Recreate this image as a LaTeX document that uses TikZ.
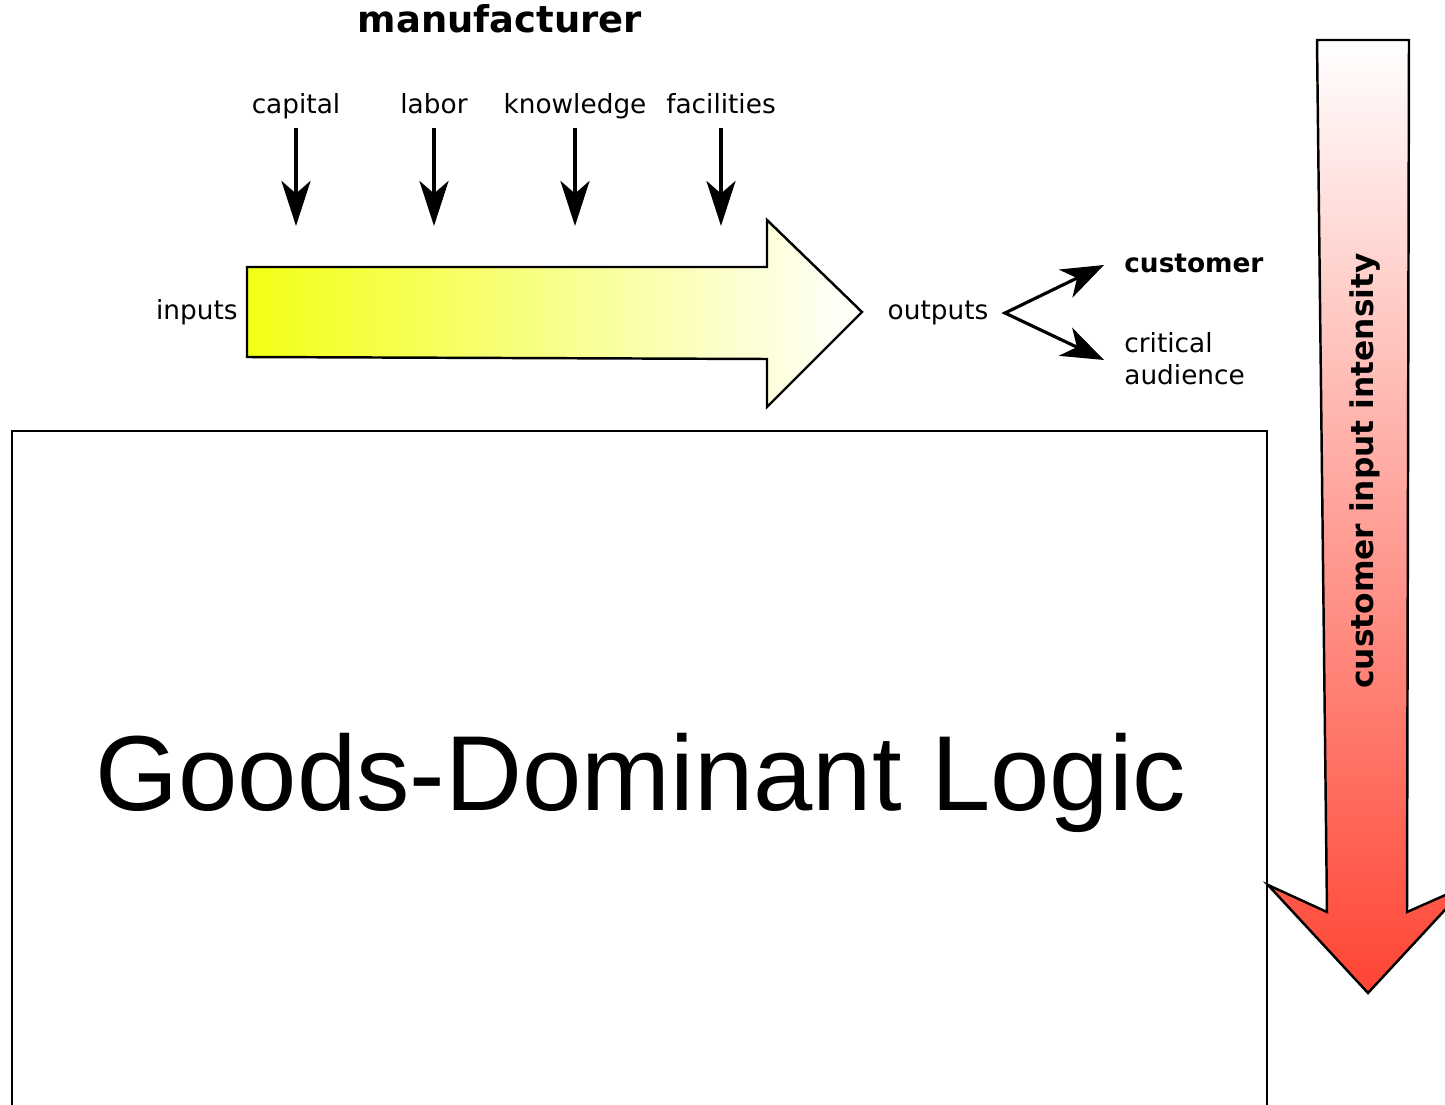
\documentclass[tikz,border=0pt]{standalone}
\usepackage{fontspec}
\setmainfont{DejaVu Sans}
\newfontfamily\logicfont{Liberation Sans}
\usetikzlibrary{arrows.meta}

\definecolor{inyellow}{HTML}{F2FF14}
\definecolor{outred}{HTML}{FF4433}

\tikzset{
  lbl/.style={inner sep=0pt, anchor=base, font=\fontsize{15}{18}\selectfont},
  boldlbl/.style={lbl, font=\fontsize{15}{18}\selectfont\bfseries},
  inarrow/.style={line width=2.3pt, -{Stealth[length=0.9cm, width=0.58cm, inset=0.25cm]}},
  forkarrow/.style={line width=1.8pt, miter limit=20, {Stealth[length=0.85cm, width=0.62cm, inset=0.25cm]}-{Stealth[length=0.85cm, width=0.62cm, inset=0.25cm]}},
  bigshape/.style={draw=black, line width=1.4pt, line join=miter}
}

\begin{document}
\begin{tikzpicture}[x=0.02cm, y=-0.02cm]
    \useasboundingbox (0,0) rectangle (1445,1105) ;
    \clip (0,0) rectangle (1445,1105) ;

    % manufacturer side
    \node[boldlbl, font=\fontsize{21}{25}\selectfont\bfseries] at (500,33) (manuf) {manufacturer} ;
    \foreach \x/\name/\txt in {296/cap/capital, 434/lab/labor, 575/know/knowledge, 721/fac/facilities} {
      \node[lbl] at (\x,114) (\name) {\txt} ;
      \coordinate (\name tip) at (\x,226) ;
      \draw[inarrow] (\x,128) -- (\name tip) ;
    }

    % main flow arrow
    \draw[bigshape, left color=inyellow, right color=white]
      (247,267) -- (767,267) -- (767,220) -- (862,312) -- (767,407) -- (767,359) -- (247,357) -- cycle ;
    \node[lbl, anchor=base east] at (238,319) (inputs) {inputs} ;
    \node[lbl] at (938,319) (outputs) {outputs} ;

    % outputs go to
    \node[boldlbl, anchor=base west] at (1124,273) (cust) {customer} ;
    \node[lbl, anchor=north west, align=left, font=\fontsize{15}{18.5}\selectfont] at (1124,332) (aud) {critical\\audience} ;
    \coordinate (fork) at (1005,313) ;
    \coordinate (custtip) at (1104,265) ;
    \coordinate (audtip) at (1104,360) ;
    \draw[forkarrow] (custtip) -- (fork) -- (audtip) ;

    % logic box
    \draw[line width=0.9pt] (12,1200) -- (12,431) -- (1267,431) -- (1267,1200) ;
    \node[inner sep=0pt, anchor=base, font=\logicfont\fontsize{60.7}{70}\selectfont] at (641,810) (logic) {Goods-Dominant Logic} ;

    % customer input intensity
    \draw[bigshape, top color=white, bottom color=outred]
      (1317,40) -- (1409,40) -- (1407,912) -- (1468,885) -- (1368,993) -- (1268,885) -- (1327,912) -- cycle ;
    \node[inner sep=0pt, rotate=90, font=\fontsize{17.8}{20}\selectfont\bfseries] at (1365,471) (intens) {customer input intensity} ;
  \end{tikzpicture}
\end{document}
